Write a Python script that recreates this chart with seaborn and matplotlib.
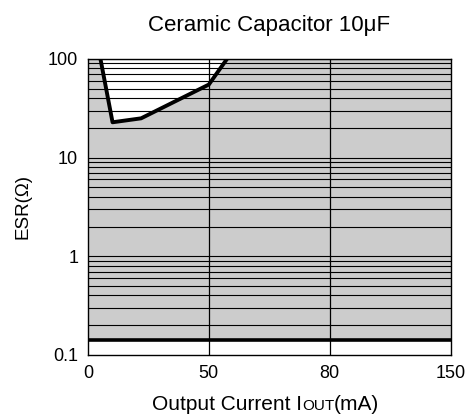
import numpy as np
import pandas as pd
import matplotlib
matplotlib.use("Agg")
import matplotlib.pyplot as plt
import seaborn as sns
from matplotlib.offsetbox import TextArea, HPacker, AnchoredOffsetbox

# --- datos ---
corriente_ticks = [0, 50, 80, 150]
esr_ticks = [0.1, 1, 10, 100]
esr_tick_labels = ["0.1", "1", "10", "100"]
corriente_borde = [5.2, 10.2, 22, 50, 54.5]
esr_borde = [100, 22.8, 25, 55, 100]
esr_minimo = 0.14

sns.set_style("white")
plt.rcParams["font.family"] = ["Liberation Sans", "DejaVu Sans"]
plt.rcParams["text.color"] = "black"
plt.rcParams["axes.labelcolor"] = "black"
plt.rcParams["xtick.color"] = "black"
plt.rcParams["ytick.color"] = "black"

posiciones = [0, 1, 2, 3]

def fwd(x):
    return np.interp(x, corriente_ticks, posiciones)

def inv(p):
    return np.interp(p, posiciones, corriente_ticks)

fig = plt.figure(figsize=(4.75, 4.18), dpi=100)
ax = fig.add_axes([0.185, 0.151, 0.764, 0.708])
ax.set_xscale("function", functions=(fwd, inv))
ax.set_yscale("log")
ax.set_xlim(0, 150)
ax.set_ylim(0.1, 100)

# zona estable en gris
ax.fill_between([0, 150], esr_minimo, 100, color="#cccccc", lw=0, zorder=0)
ax.fill_between(corriente_borde, esr_borde, 100, color="white", lw=0, zorder=1)

# rejilla
for dec in [0.1, 1, 10]:
    for m in range(2, 11):
        ax.axhline(dec * m, color="black", lw=0.8, zorder=2)
for c in [50, 80]:
    ax.axvline(c, color="black", lw=0.9, zorder=2)

ax.axhline(esr_minimo, color="black", lw=2.6, zorder=3)

df = pd.DataFrame({"corriente": corriente_borde, "esr": esr_borde})
sns.lineplot(data=df, x="corriente", y="esr", sort=False, color="black",
             lw=2.8, ax=ax, zorder=4)

ax.set_xticks(corriente_ticks)
ax.set_xticklabels([str(c) for c in corriente_ticks])
ax.set_yticks(esr_ticks)
ax.set_yticklabels(esr_tick_labels)
ax.minorticks_off()
ax.tick_params(axis="both", labelsize=13, length=0, pad=7)

for s in ax.spines.values():
    s.set_color("black")
    s.set_linewidth(1.0)
    s.set_zorder(5)

ax.set_title("Ceramic Capacitor 10\u03bcF", fontsize=16, pad=20)
ax.set_xlabel("")
ax.set_ylabel("ESR(\u03a9)", fontsize=13.5, labelpad=12)

# etiqueta X con "OUT" en versalitas
partes = [TextArea("Output Current I", textprops=dict(fontsize=15)),
          TextArea("OUT", textprops=dict(fontsize=11)),
          TextArea("(mA)", textprops=dict(fontsize=15))]
caja = HPacker(children=partes, align="baseline", pad=0, sep=0)
etiqueta = AnchoredOffsetbox(loc="center", child=caja, frameon=False,
                             bbox_to_anchor=(0.559, 0.033),
                             bbox_transform=fig.transFigure, borderpad=0, pad=0)
fig.add_artist(etiqueta)

fig.savefig("out.png", dpi=100)
